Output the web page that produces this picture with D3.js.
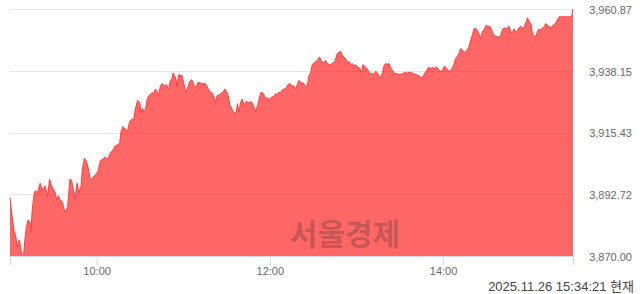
<!DOCTYPE html>
<html>
<head>
<meta charset="utf-8">
<script src="https://cdn.jsdelivr.net/npm/d3@7"></script>
<style>
  body { margin: 0; background: #fff; }
  svg { display: block; }
</style>
</head>
<body>
<svg width="640" height="294"></svg>
<script>
// minutes after 09:00 and index value
const mins = [
  0, 1.5, 2.9, 3.8, 5.2, 6.4, 7.6, 8.5, 9.4, 10.3, 11.4, 12.6, 13.8, 14.5, 15.4, 16.8, 17.7, 19.1, 20.9, 21.8,
  23.0, 24.2, 25.3, 26.0, 27.4, 28.8, 30.0, 31.1, 32.3, 33.4, 34.6, 36.2, 37.6, 38.5, 39.9, 41.5, 42.7, 43.8, 45.0, 46.4,
  47.8, 49.2, 50.1, 51.5, 53.1, 54.2, 55.4, 56.5, 58.4, 60.0, 61.2, 62.6, 64.0, 65.8, 67.6, 69.5, 71.4, 73.0, 74.6, 76.0,
  76.9, 78.3, 79.9, 81.5, 82.9, 84.6, 85.7, 86.8, 88.4, 89.8, 90.8, 91.7, 92.6, 93.8, 95.0, 96.1, 97.2, 98.4, 99.5, 100.7,
  101.9, 103.0, 104.2, 105.6, 107.0, 108.3, 109.9, 111.1, 112.0, 113.0, 113.9, 114.8, 115.8, 116.9, 118.1, 119.2, 120.3, 121.7, 123.1, 124.5,
  125.9, 127.3, 128.7, 130.3, 131.9, 133.5, 135.4, 136.6, 137.7, 138.9, 140.0, 141.2, 142.3, 143.5, 145.1, 146.5, 147.4, 148.8, 150.0, 151.1,
  152.3, 153.4, 154.6, 155.7, 156.7, 157.6, 158.5, 159.7, 160.9, 162.3, 163.6, 165.0, 166.6, 167.8, 168.9, 170.1, 171.3, 172.4, 173.8, 175.1,
  176.5, 177.5, 178.9, 179.8, 181.2, 182.8, 184.0, 185.1, 186.2, 187.6, 188.6, 190.0, 191.4, 192.8, 194.1, 195.5, 196.6, 197.8, 199.0, 200.1,
  201.3, 203.6, 204.8, 205.9, 207.0, 208.2, 209.4, 211.2, 212.9, 214.5, 215.9, 217.5, 218.6, 219.8, 221.4, 223.3, 225.1, 226.7, 227.9, 229.0,
  230.2, 231.3, 232.5, 233.7, 234.8, 236.0, 237.2, 238.3, 239.4, 240.6, 242.2, 243.4, 244.5, 245.7, 246.9, 248.2, 249.6, 250.5, 251.9, 253.3,
  254.5, 255.6, 256.8, 258.0, 259.1, 260.2, 261.4, 262.5, 263.7, 264.9, 266.3, 268.4, 269.5, 271.4, 273.0, 274.1, 275.3, 276.4, 278.3, 279.9,
  281.5, 282.9, 284.5, 285.7, 286.8, 288.5, 289.9, 291.5, 292.6, 293.8, 294.9, 296.1, 297.2, 298.4, 299.6, 300.7, 301.9, 303.0, 304.2, 305.3,
  306.5, 307.6, 308.8, 310.0, 311.1, 312.3, 313.4, 314.6, 315.7, 316.9, 318.0, 319.2, 320.4, 321.5, 322.7, 323.8, 325.0, 326.1, 327.3, 328.4,
  329.6, 330.8, 331.9, 333.1, 334.3, 335.4, 336.6, 337.7, 338.8, 340.0, 341.2, 342.3, 343.5, 344.7, 345.8, 347.0, 348.1, 349.2, 350.4, 351.6,
  352.7, 353.9, 355.1, 356.2, 357.4, 358.5, 359.7, 360.8, 362.0, 363.1, 364.3, 365.5, 366.6, 367.8, 368.9, 370.1, 371.2, 372.4, 373.5, 374.7,
  375.9, 377.0, 378.2, 379.3, 380.4, 389.0, 390.0
];
const prices = [
  3891.49, 3884.49, 3878.96, 3877.74, 3873.43, 3875.90, 3872.21, 3870.00, 3870.37, 3875.90, 3880.80, 3883.27, 3882.64, 3878.96, 3886.96, 3893.22, 3894.07, 3893.33, 3896.80, 3895.33,
  3894.33, 3895.80, 3893.70, 3891.86, 3898.27, 3895.80, 3894.59, 3893.70, 3890.64, 3892.12, 3890.64, 3890.02, 3886.96, 3885.96, 3888.17, 3898.27, 3897.76, 3894.33, 3890.90, 3896.80,
  3893.33, 3895.55, 3901.70, 3906.02, 3904.76, 3902.33, 3898.64, 3898.27, 3899.49, 3900.23, 3901.70, 3905.13, 3905.39, 3906.38, 3905.39, 3907.86, 3909.08, 3910.55, 3910.92, 3911.55,
  3915.82, 3917.66, 3916.45, 3916.19, 3919.51, 3920.39, 3920.14, 3924.08, 3927.25, 3926.51, 3922.61, 3924.45, 3923.20, 3923.82, 3927.51, 3928.98, 3929.35, 3930.20, 3929.72, 3931.45,
  3930.57, 3928.98, 3932.67, 3933.41, 3932.67, 3933.04, 3931.45, 3934.62, 3934.88, 3937.35, 3936.36, 3935.51, 3932.41, 3936.72, 3936.36, 3936.36, 3933.66, 3930.20, 3931.82, 3934.25,
  3934.88, 3933.04, 3931.82, 3933.89, 3933.66, 3933.41, 3933.41, 3932.19, 3931.19, 3930.20, 3929.98, 3928.50, 3926.51, 3928.98, 3929.35, 3929.98, 3930.20, 3931.45, 3930.57, 3928.98,
  3925.66, 3924.45, 3923.20, 3921.98, 3923.20, 3926.03, 3922.83, 3926.51, 3927.77, 3925.04, 3926.88, 3926.51, 3926.77, 3926.29, 3924.82, 3923.20, 3925.04, 3927.51, 3930.20, 3929.98,
  3928.72, 3927.77, 3928.13, 3927.25, 3928.50, 3928.72, 3929.72, 3929.46, 3930.20, 3929.98, 3931.19, 3931.45, 3931.82, 3933.15, 3933.41, 3932.41, 3932.67, 3931.19, 3933.04, 3934.62,
  3933.89, 3933.41, 3932.41, 3932.41, 3936.10, 3937.35, 3940.41, 3941.26, 3942.00, 3943.25, 3941.26, 3941.04, 3942.00, 3940.78, 3940.41, 3940.78, 3941.63, 3944.47, 3944.95, 3945.31,
  3943.73, 3943.25, 3942.51, 3941.26, 3941.63, 3940.41, 3940.78, 3939.78, 3940.41, 3939.56, 3939.19, 3937.35, 3940.41, 3939.78, 3939.19, 3938.31, 3936.72, 3937.35, 3936.72, 3937.94,
  3937.35, 3936.36, 3935.51, 3937.35, 3940.04, 3940.78, 3940.52, 3940.78, 3939.19, 3938.31, 3937.09, 3937.09, 3936.72, 3936.98, 3937.35, 3937.72, 3936.98, 3937.72, 3937.35, 3936.98,
  3936.72, 3936.47, 3935.73, 3935.51, 3936.72, 3938.20, 3939.41, 3938.94, 3939.41, 3938.94, 3939.41, 3939.19, 3938.20, 3937.94, 3938.20, 3939.78, 3939.41, 3938.57, 3937.94, 3938.20,
  3939.19, 3940.67, 3942.88, 3943.47, 3944.72, 3946.31, 3945.57, 3945.09, 3945.09, 3945.94, 3947.16, 3949.63, 3951.47, 3953.68, 3953.68, 3952.94, 3951.47, 3950.00, 3952.69, 3953.06,
  3954.79, 3954.53, 3954.53, 3953.94, 3952.10, 3951.10, 3950.84, 3950.62, 3950.25, 3951.47, 3953.31, 3953.94, 3953.57, 3953.94, 3954.53, 3952.10, 3952.32, 3953.57, 3952.10, 3953.06,
  3953.94, 3954.53, 3953.57, 3954.31, 3956.00, 3957.63, 3956.00, 3955.52, 3951.47, 3950.84, 3950.84, 3952.69, 3953.57, 3953.06, 3953.94, 3954.31, 3955.52, 3954.79, 3954.53, 3953.94,
  3954.79, 3955.16, 3956.00, 3957.00, 3957.99, 3957.99, 3960.87
];

const yTicks = [3870.00, 3892.72, 3915.43, 3938.15, 3960.87];
const xTicks = ["10:00", "12:00", "14:00"];
const stamp = "2025.11.26 15:34:21 현재";
const watermark = "서울경제";

const svg = d3.select("svg");
const plotLeft = 10, plotRight = 573, plotTop = 9, plotBottom = 256;

const x = d3.scaleLinear().domain([0, 390]).range([plotLeft, plotRight]);
const y = d3.scaleLinear().domain([yTicks[0], yTicks[yTicks.length - 1]]).range([plotBottom, plotTop]);

const data = mins.map(function (m, i) { return { m: m, v: prices[i] }; });

// grid + right labels
const yAxis = svg.append("g")
  .attr("transform", "translate(" + plotRight + ",0)")
  .call(d3.axisRight(y).tickValues(yTicks).tickSize(-(plotRight - plotLeft)).tickFormat(d3.format(",.2f")));
yAxis.select(".domain").remove();
yAxis.selectAll(".tick line").attr("stroke", "#e6e6e6").attr("shape-rendering", "crispEdges");
yAxis.selectAll(".tick text")
  .attr("x", 59).attr("dy", "0.4em")
  .attr("text-anchor", "end")
  .attr("fill", "#666")
  .style("font", "11px 'Liberation Sans', sans-serif");

// area
const area = d3.area()
  .x(function (d) { return x(d.m); })
  .y0(y(yTicks[0]))
  .y1(function (d) { return y(d.v); });
const line = d3.line()
  .x(function (d) { return x(d.m); })
  .y(function (d) { return y(d.v); });

svg.append("path").datum(data)
  .attr("d", area)
  .attr("fill", "#ff0000")
  .attr("fill-opacity", 0.6);
svg.append("path").datum(data)
  .attr("d", line)
  .attr("fill", "none")
  .attr("stroke", "#ff3c3c")
  .attr("stroke-width", 1);

// x axis
const xTickMins = xTicks.map(function (t) {
  const p = t.split(":");
  return (+p[0] - 9) * 60 + (+p[1]);
});
const xAxis = svg.append("g")
  .attr("transform", "translate(0," + plotBottom + ")")
  .call(d3.axisBottom(x).tickValues(xTickMins).tickSizeOuter(0).tickSize(9).tickPadding(2)
    .tickFormat(function (d, i) { return xTicks[i]; }));
xAxis.select(".domain").attr("stroke", "#ccd6eb");
xAxis.selectAll(".tick line").attr("stroke", "#ccd6eb");
xAxis.selectAll(".tick text")
  .attr("fill", "#666")
  .style("font", "11px 'Liberation Sans', sans-serif");

// watermark
svg.append("text")
  .attr("x", 345).attr("y", 245)
  .attr("text-anchor", "middle")
  .attr("fill", "#333").attr("fill-opacity", 0.3)
  .style("font", "bold 30px 'Noto Sans CJK KR', sans-serif")
  .text(watermark);

// timestamp
svg.append("text")
  .attr("x", 634).attr("y", 291)
  .attr("text-anchor", "end")
  .attr("fill", "#444")
  .style("font", "13px 'Liberation Sans', 'Noto Sans CJK KR', sans-serif")
  .text(stamp);
</script>
</body>
</html>
